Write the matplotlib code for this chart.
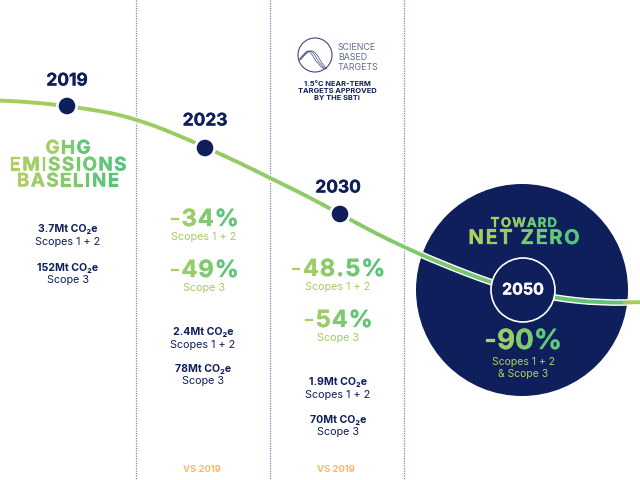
import matplotlib
matplotlib.use('Agg')
import matplotlib.pyplot as plt
import matplotlib.patheffects as pe
from matplotlib.patches import Circle, PathPatch
from matplotlib.path import Path
from matplotlib.colors import LinearSegmentedColormap

NAVY = '#0f1f5c'
GRAD = LinearSegmentedColormap.from_list('g', ['#b5d05f', '#4fc47c'])
LINE = LinearSegmentedColormap.from_list('l', ['#a8cc5c', '#8fcb68', '#5cc278'])
LIGHT = '#a4cc62'
plt.rcParams['font.family'] = ['Inter', 'DejaVu Sans']

curve_x = [-40, -10, 30, 67, 80, 100, 120, 137, 155, 175, 205, 240, 270, 305, 340, 375, 404, 440, 492, 523, 555, 600, 650, 700]
curve_y = [100, 100, 102, 106, 108, 111, 115, 120, 126, 134, 147, 163, 178, 195, 214, 233, 247, 263, 283, 292, 298, 303, 302, 300]

years = ['2019', '2023', '2030']
year_x = [67, 205, 340]
year_y = [106, 148, 214]
year_label_x = [67, 205, 338]
year_label_y = [81, 121, 188]
dividers = [136, 270, 404]

reductions = ['-34%', '-49%', '-48.5%', '-54%']
reduction_labels = ['Scopes 1 + 2', 'Scope 3', 'Scopes 1 + 2', 'Scope 3']
reduction_x = [204, 204, 338, 338]
reduction_y = [220, 271, 270, 321]

tonnes = ['3.7Mt CO₂e', '152Mt CO₂e', '2.4Mt CO₂e', '78Mt CO₂e', '1.9Mt CO₂e', '70Mt CO₂e']
tonne_labels = ['Scopes 1 + 2', 'Scope 3', 'Scopes 1 + 2', 'Scope 3', 'Scopes 1 + 2', 'Scope 3']
tonne_x = [68, 68, 203, 203, 338, 338]
tonne_y = [229, 268, 332, 369, 382, 420]


def heavy(color, w=0.2):
    return [pe.withStroke(linewidth=w, foreground=color)]


def gradient_text(ax, x, y, s, size, spacing=0.0):
    # one text per letter, so every letter gets its own colour
    r = ax.figure.canvas.get_renderer()
    widths = []
    for ch in s:
        if ch == ' ':
            widths.append(size * 0.45)
            continue
        t = ax.text(0, 0, ch, fontsize=size, fontweight='bold')
        widths.append(t.get_window_extent(r).width + spacing)
        t.remove()
    total = sum(widths)
    pos = x - total / 2
    for ch, w in zip(s, widths):
        c = GRAD((pos + w / 2 - x + total / 2) / total)
        ax.text(pos + w / 2, y, ch, fontsize=size, fontweight='bold', color=c, ha='center', va='center',
                path_effects=heavy(c), zorder=7)
        pos += w


fig = plt.figure(figsize=(6.4, 4.8), dpi=100)
ax = fig.add_axes([0, 0, 1, 1])
ax.set_xlim(0, 640)
ax.set_ylim(480, 0)
ax.axis('off')

for x in dividers:
    ax.plot([x, x], [0, 480], color='#6c88c0', lw=0.9, ls=(0, (1, 1)), zorder=1)

# big circle
ax.add_patch(Circle((522, 290), 106, fc=NAVY, ec='none', zorder=2))

# curve, quadratic segments through the midpoints of the read points
mids = [((curve_x[i] + curve_x[i + 1]) / 2, (curve_y[i] + curve_y[i + 1]) / 2) for i in range(len(curve_x) - 1)]
whole = [mids[0]]
codes = [Path.MOVETO]
for i in range(1, len(mids)):
    whole += [(curve_x[i], curve_y[i]), mids[i]]
    codes += [Path.CURVE3, Path.CURVE3]
ax.add_patch(PathPatch(Path(whole, codes), fc='none', ec='white', lw=4.8, zorder=3))
for i in range(1, len(mids)):
    seg = Path([mids[i - 1], (curve_x[i], curve_y[i]), mids[i]], [Path.MOVETO, Path.CURVE3, Path.CURVE3])
    c = LINE(min(max(curve_x[i] / 640, 0), 1))
    ax.add_patch(PathPatch(seg, fc='none', ec=c, lw=2.8, capstyle='round', zorder=4))

ax.add_patch(Circle((523, 290), 32, fc=NAVY, ec='white', lw=1.2, zorder=5))
ax.text(523, 290, '2050', color='white', fontsize=11.5, fontweight='bold', ha='center', va='center', zorder=6,
        path_effects=heavy('white'))

for year, x, y, lx, ly in zip(years, year_x, year_y, year_label_x, year_label_y):
    ax.add_patch(Circle((x, y), 11, fc='white', ec='none', zorder=5))
    ax.add_patch(Circle((x, y), 8.3, fc=NAVY, ec='none', zorder=6))
    ax.text(lx, ly, year, color=NAVY, fontsize=12.5, fontweight='bold', ha='center', va='center',
            path_effects=heavy(NAVY))

fig.canvas.draw()
gradient_text(ax, 68, 149, 'GHG', 13.5, 1.5)
gradient_text(ax, 68, 166, 'EMISSIONS', 13.5, 1.5)
gradient_text(ax, 68, 182, 'BASELINE', 13.5, 1.5)

for s, lab, x, y in zip(reductions, reduction_labels, reduction_x, reduction_y):
    gradient_text(ax, x, y, s, 17, 1)
    ax.text(x, y + 17, lab, color=LIGHT, fontsize=7.8, ha='center', va='center')

for s, lab, x, y in zip(tonnes, tonne_labels, tonne_x, tonne_y):
    ax.text(x, y, s, color=NAVY, fontsize=7.6, fontweight='bold', ha='center', va='center')
    ax.text(x, y + (13 if lab != 'Scope 3' else 12), lab, color=NAVY, fontsize=7.8, ha='center', va='center')

for x in dividers[:2]:
    ax.text(x + 66, 470, 'VS 2019', color='#fbb869', fontsize=6.8, fontweight='bold', ha='center', va='center')

# inside the big circle
gradient_text(ax, 524, 224, 'TOWARD', 9.5, 1)
gradient_text(ax, 524, 239, 'NET ZERO', 14.5, 1.5)
gradient_text(ax, 523, 342, '-90%', 20, 0)
ax.text(523, 362, 'Scopes 1 + 2', color='#b5d05f', fontsize=7.5, ha='center', va='center', zorder=6)
ax.text(523, 374, '& Scope 3', color='#b5d05f', fontsize=7.5, ha='center', va='center', zorder=6)

# SBTi logo
ax.add_patch(Circle((315, 55), 17, fc='none', ec='#3c4a80', lw=0.8))
for dx in [0, 2.5, 5]:
    lx = [299 + dx * 0.3, 306 + dx * 0.5, 311 + dx, 317 + dx, 324 + dx * 0.6]
    ly = [60, 50, 52, 64, 69]
    v = [(lx[0], ly[0]), (lx[1], ly[1]), ((lx[1] + lx[2]) / 2, (ly[1] + ly[2]) / 2), (lx[2], ly[2]),
         ((lx[2] + lx[3]) / 2, (ly[2] + ly[3]) / 2), (lx[3], ly[3]), (lx[4], ly[4])]
    ax.add_patch(PathPatch(Path(v, [Path.MOVETO] + [Path.CURVE3] * 6), fc='none', ec='#3c4a80', lw=0.5))
for s, y in zip(['SCIENCE', 'BASED', 'TARGETS'], [48, 58, 67]):
    ax.text(338, y, s, color='#5f6b94', fontsize=6.4, ha='left', va='center')
for s, y in zip(['1.5°C NEAR-TERM', 'TARGETS APPROVED', 'BY THE SBTi'], [84, 91, 98]):
    ax.text(337, y, s, color=NAVY, fontsize=5.4, fontweight='bold', ha='center', va='center')

fig.savefig('out.png', dpi=100)
